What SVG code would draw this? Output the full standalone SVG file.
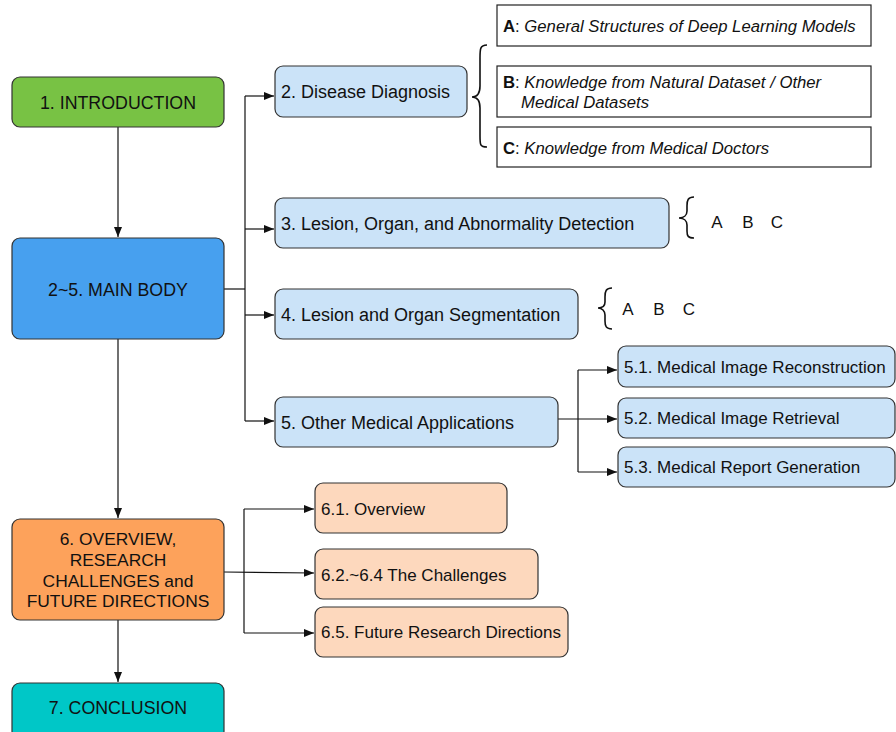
<svg xmlns="http://www.w3.org/2000/svg" width="896" height="732" viewBox="0 0 896 732">
<defs>
<style>
text{font-family:"Liberation Sans",Arial,sans-serif;font-size:17px;fill:#111}
.c{text-anchor:middle}
.m{font-size:17.8px}
.m6{font-size:17.4px}
.l2{font-size:18px}
.ab{font-size:16.7px}
.box{stroke:#333;stroke-width:1.2}
.g{fill:#78c244}.b{fill:#47a0ef}.o{fill:#fda25b}.t{fill:#00c7c7}.lb{fill:#cbe3f8}.pe{fill:#fdd8bd}
.wb{fill:#fff;stroke:#222;stroke-width:1.2}
.ln{fill:none;stroke:#111;stroke-width:1.2}
.br{fill:none;stroke:#111;stroke-width:1.6}
.it{font-style:italic}
.bd{font-weight:bold}
</style>
<marker id="ah" viewBox="0 0 10 8" refX="10" refY="4" markerWidth="10" markerHeight="8" markerUnits="userSpaceOnUse" orient="auto">
<path d="M0,0 L10,4 L0,8 Z" fill="#111"/>
</marker>
</defs>
<rect width="896" height="732" fill="#fff"/>

<g id="connectors">
<path class="ln" d="M118,127 V237" marker-end="url(#ah)"/>
<path class="ln" d="M118,339 V518" marker-end="url(#ah)"/>
<path class="ln" d="M118,620 V682" marker-end="url(#ah)"/>
<path class="ln" d="M224,289 H245"/>
<path class="ln" d="M245,96 V421"/>
<path class="ln" d="M245,96 H274" marker-end="url(#ah)"/>
<path class="ln" d="M245,229 H274" marker-end="url(#ah)"/>
<path class="ln" d="M245,315 H274" marker-end="url(#ah)"/>
<path class="ln" d="M245,421 H274" marker-end="url(#ah)"/>
<path class="ln" d="M558,419 H617" marker-end="url(#ah)"/>
<path class="ln" d="M578,370 V472"/>
<path class="ln" d="M578,370 H617" marker-end="url(#ah)"/>
<path class="ln" d="M578,472 H617" marker-end="url(#ah)"/>
<path class="ln" d="M224,572 L314,573" marker-end="url(#ah)"/>
<path class="ln" d="M244,509 V633"/>
<path class="ln" d="M244,509 H314" marker-end="url(#ah)"/>
<path class="ln" d="M244,633 H314" marker-end="url(#ah)"/>
</g>

<g id="n1"><rect class="box g" x="12" y="77" width="212" height="50" rx="8"/><text class="c m" x="118" y="108.5">1. INTRODUCTION</text></g>
<g id="n2_5"><rect class="box b" x="12" y="238" width="212" height="101" rx="8"/><text class="c m" x="118" y="296">2~5. MAIN BODY</text></g>
<g id="n6"><rect class="box o" x="12" y="519" width="212" height="101" rx="8"/>
<text class="c m6" x="118" y="545">6. OVERVIEW,</text>
<text class="c m6" x="118" y="566">RESEARCH</text>
<text class="c m6" x="118" y="587">CHALLENGES and</text>
<text class="c m6" x="118" y="607">FUTURE DIRECTIONS</text></g>
<g id="n7"><rect class="box t" x="12" y="683" width="212" height="56" rx="8"/><text class="c m" x="118" y="714">7. CONCLUSION</text></g>

<g id="n2"><rect class="box lb" x="275" y="66" width="192" height="51" rx="8"/><text class="l2" x="281" y="98">2. Disease Diagnosis</text></g>
<g id="n3"><rect class="box lb" x="275" y="198" width="394" height="50" rx="8"/><text class="l2" x="281" y="229.5">3. Lesion, Organ, and Abnormality Detection</text></g>
<g id="n4"><rect class="box lb" x="275" y="289" width="303" height="50" rx="8"/><text class="l2" x="281" y="321">4. Lesion and Organ Segmentation</text></g>
<g id="n5"><rect class="box lb" x="275" y="397" width="283" height="50" rx="8"/><text class="l2" x="281" y="428.5">5. Other Medical Applications</text></g>

<g id="n5_1"><rect class="box lb" x="618" y="346" width="277" height="41" rx="8"/><text x="624" y="372.5">5.1. Medical Image Reconstruction</text></g>
<g id="n5_2"><rect class="box lb" x="618" y="398" width="277" height="40" rx="8"/><text x="624" y="424">5.2. Medical Image Retrieval</text></g>
<g id="n5_3"><rect class="box lb" x="618" y="447" width="277" height="40" rx="8"/><text x="624" y="473">5.3. Medical Report Generation</text></g>

<g id="n6_1"><rect class="box pe" x="315" y="483" width="192" height="50" rx="8"/><text x="321" y="515">6.1. Overview</text></g>
<g id="n6_2"><rect class="box pe" x="315" y="549" width="223" height="50" rx="8"/><text x="321" y="581">6.2.~6.4 The Challenges</text></g>
<g id="n6_5"><rect class="box pe" x="315" y="607" width="253" height="50" rx="8"/><text x="321" y="638">6.5. Future Research Directions</text></g>

<g id="nA"><rect class="wb" x="497" y="5" width="374" height="41"/><text class="ab" x="503" y="32"><tspan class="bd">A</tspan>: <tspan class="it">General Structures of Deep Learning Models</tspan></text></g>
<g id="nB"><rect class="wb" x="497" y="66" width="374" height="51"/><text class="ab" x="503" y="87.5"><tspan class="bd">B</tspan>: <tspan class="it">Knowledge from Natural Dataset / Other</tspan></text><text class="ab it" x="521" y="107.5">Medical Datasets</text></g>
<g id="nC"><rect class="wb" x="497" y="127" width="374" height="40"/><text class="ab" x="503" y="154"><tspan class="bd">C</tspan>: <tspan class="it">Knowledge from Medical Doctors</tspan></text></g>

<g id="brace_diag"><path class="br" d="M487,45 C480,45 480,49 480,58 L480,86 C480,93 477,97 472,97 C477,97 480,101 480,108 L480,136 C480,145 480,147 487,147"/></g>
<g id="brace_det"><path class="br" d="M694,197 C688,197 687,200 687,206 L687,211 C687,215 684,218 679,218 C684,218 687,221 687,225 L687,231 C687,236 688,238 694,238"/>
<text class="c" x="717" y="228">A</text><text class="c" x="748" y="228">B</text><text class="c" x="777" y="228">C</text></g>
<g id="brace_seg"><path class="br" d="M612,288 C606,288 605,291 605,297 L605,302 C605,306 602,308 598,308 C602,308 605,311 605,315 L605,321 C605,326 606,329 612,329"/>
<text class="c" x="628" y="315">A</text><text class="c" x="659" y="315">B</text><text class="c" x="689" y="315">C</text></g>
</svg>
